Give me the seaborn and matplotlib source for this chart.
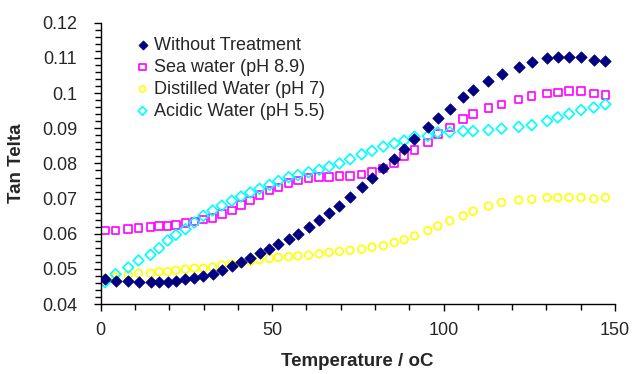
import pandas as pd
import matplotlib
matplotlib.use('Agg')
import matplotlib.pyplot as plt
import seaborn as sns
from matplotlib.ticker import MultipleLocator

# temperature points (oC)
temp = [1.2, 4.3, 8.0, 11.0, 14.5, 17.0, 19.5, 21.9, 24.7, 27.3, 29.9, 32.6, 35.3,
        38.2, 40.9, 43.6, 46.3, 49.2, 51.8, 54.8, 57.5, 60.6, 63.7, 66.6, 69.6,
        72.7, 76.1, 79.1, 82.4, 85.6, 88.5, 91.5, 95.4, 98.3, 101.8, 105.7, 108.6,
        113.1, 116.9, 121.9, 125.7, 130.2, 133.3, 136.6, 140.1, 143.8, 147.2]

without_treatment = [0.0471, 0.0466, 0.0466, 0.0463, 0.0463, 0.0463, 0.0463, 0.0466,
                     0.0471, 0.0474, 0.0480, 0.0486, 0.0497, 0.0509, 0.0520, 0.0530,
                     0.0544, 0.0557, 0.0571, 0.0586, 0.0600, 0.0620, 0.0638, 0.0660,
                     0.0679, 0.0704, 0.0732, 0.0760, 0.0788, 0.0814, 0.0840, 0.0869,
                     0.0905, 0.0928, 0.0956, 0.0988, 0.1009, 0.1035, 0.1053, 0.1075,
                     0.1088, 0.1099, 0.1102, 0.1102, 0.1102, 0.1094, 0.1090]

sea_water = [0.0609, 0.0609, 0.0613, 0.0616, 0.0619, 0.0622, 0.0622, 0.0625, 0.0630,
             0.0635, 0.0640, 0.0645, 0.0657, 0.0666, 0.0682, 0.0695, 0.0711, 0.0723,
             0.0732, 0.0744, 0.0751, 0.0758, 0.0761, 0.0761, 0.0765, 0.0765, 0.0769,
             0.0776, 0.0786, 0.0800, 0.0821, 0.0838, 0.0859, 0.0884, 0.0902, 0.0926,
             0.0940, 0.0958, 0.0968, 0.0982, 0.0992, 0.0999, 0.1002, 0.1006, 0.1006,
             0.0999, 0.0995]

distilled_water = [0.0472, 0.0477, 0.0483, 0.0488, 0.0488, 0.0492, 0.0492, 0.0496,
                   0.0499, 0.0502, 0.0502, 0.0505, 0.0511, 0.0514, 0.0516, 0.0522,
                   0.0526, 0.0530, 0.0533, 0.0535, 0.0537, 0.0539, 0.0543, 0.0547,
                   0.0550, 0.0553, 0.0556, 0.0562, 0.0566, 0.0575, 0.0583, 0.0594,
                   0.0609, 0.0622, 0.0637, 0.0651, 0.0664, 0.0679, 0.0689, 0.0696,
                   0.0698, 0.0703, 0.0703, 0.0703, 0.0703, 0.0699, 0.0703]

acidic_water = [0.0462, 0.0485, 0.0504, 0.0524, 0.0540, 0.0559, 0.0581, 0.0597, 0.0613,
                0.0632, 0.0651, 0.0666, 0.0680, 0.0694, 0.0706, 0.0717, 0.0728, 0.0739,
                0.0750, 0.0761, 0.0767, 0.0775, 0.0782, 0.0791, 0.0800, 0.0812, 0.0826,
                0.0836, 0.0848, 0.0857, 0.0865, 0.0876, 0.0878, 0.0888, 0.0889, 0.0892,
                0.0892, 0.0895, 0.0899, 0.0904, 0.0909, 0.0921, 0.0931, 0.0941, 0.0952,
                0.0959, 0.0968]

labels = ['Without Treatment', 'Sea water (pH 8.9)', 'Distilled Water (pH 7)',
          'Acidic Water (pH 5.5)']

sns.set_style('white')
plt.rcParams['font.family'] = ['Liberation Sans', 'DejaVu Sans']

fig, ax = plt.subplots(figsize=(6.34, 3.74), dpi=100)
fig.subplots_adjust(left=0.159, right=0.970, top=0.939, bottom=0.187)

# series: (values, marker, color, filled, size)
series = [
    (without_treatment, 'D', '#000080', True, 34),
    (sea_water, 's', '#FF00FF', False, 30),
    (distilled_water, 'o', '#FFFF00', False, 30),
    (acidic_water, 'D', '#00FFFF', False, 30),
]

for (vals, mk, col, filled, sz), lab in zip(series, labels):
    df = pd.DataFrame({'temp': temp, 'tan': vals})
    if filled:
        sns.scatterplot(data=df, x='temp', y='tan', marker=mk, color=col, s=sz,
                        edgecolor=col, linewidth=0.5, ax=ax, label=lab, zorder=3)
    else:
        sns.scatterplot(data=df, x='temp', y='tan', marker=mk, s=sz,
                        facecolor='none', edgecolor=col, linewidth=1.2, ax=ax,
                        label=lab, zorder=2)

ax.set_xlim(0, 150)
ax.set_ylim(0.04, 0.12)
ax.xaxis.set_major_locator(MultipleLocator(50))
ax.xaxis.set_minor_locator(MultipleLocator(10))
ax.yaxis.set_major_locator(MultipleLocator(0.01))
ax.yaxis.set_minor_locator(MultipleLocator(0.002))
ax.set_yticks(ax.get_yticks())
ax.set_yticklabels([f'{v:g}' for v in ax.get_yticks()])
ax.set_ylim(0.04, 0.12)

sns.despine(ax=ax)
for sp in ['left', 'bottom']:
    ax.spines[sp].set_color('black')
    ax.spines[sp].set_linewidth(1.0)

ax.tick_params(axis='both', which='both', direction='out', color='black',
               labelsize=13, left=True, bottom=True)
ax.tick_params(axis='both', which='major', length=5, width=1)
ax.tick_params(axis='both', which='minor', length=4, width=1)
ax.tick_params(axis='x', which='major', pad=8)
ax.tick_params(axis='y', which='major', pad=12)

ax.set_xlabel('Temperature / oC', fontsize=13.5, fontweight='bold')
ax.set_ylabel('Tan Telta', fontsize=13.5, fontweight='bold')
ax.xaxis.set_label_coords(0.498, -0.175)
ax.yaxis.set_label_coords(-0.148, 0.5)

leg = ax.legend(loc='upper left', bbox_to_anchor=(0.053, 0.975), frameon=False,
                fontsize=13, handletextpad=0.25, labelspacing=0.27,
                handlelength=0.8, borderaxespad=0, markerscale=0.8)

fig.savefig('out.png', dpi=100)
